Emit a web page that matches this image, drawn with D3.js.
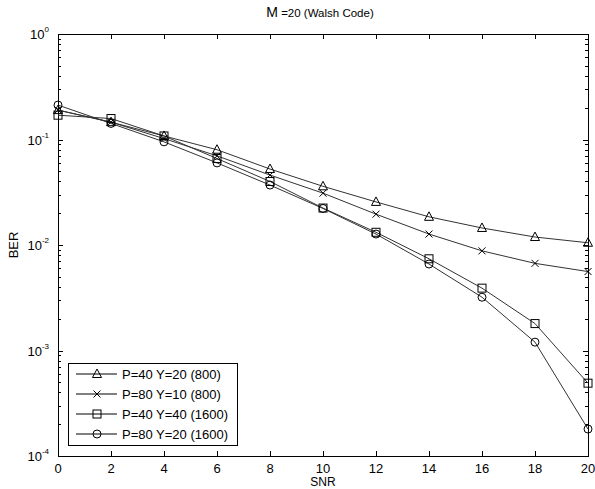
<!DOCTYPE html>
<html>
<head>
<meta charset="utf-8">
<script src="https://cdn.jsdelivr.net/npm/d3@7"></script>
<style>
  html, body { margin: 0; padding: 0; background: #fff; }
  svg { display: block; font-family: "Liberation Sans", Arial, sans-serif; }
</style>
</head>
<body>
<svg id="chart" width="595" height="489"></svg>
<script>
// SNR sweep (x values)
const snr = [0, 2, 4, 6, 8, 10, 12, 14, 16, 18, 20];

// BER per configuration
const berP40Y20 = [0.19, 0.146, 0.108, 0.080, 0.0525, 0.036, 0.0256, 0.0185, 0.0145, 0.0119, 0.0105];
const berP80Y10 = [0.19, 0.146, 0.102, 0.070, 0.046, 0.031, 0.0196, 0.0127, 0.0088, 0.0067, 0.0056];
const berP40Y40 = [0.17, 0.158, 0.108, 0.066, 0.040, 0.0224, 0.0132, 0.0074, 0.0039, 0.0018, 0.00049];
const berP80Y20 = [0.212, 0.142, 0.095, 0.060, 0.037, 0.0222, 0.0127, 0.0066, 0.0032, 0.0012, 0.00018];

const seriesNames = ["P=40 Y=20 (800)", "P=80 Y=10 (800)", "P=40 Y=40 (1600)", "P=80 Y=20 (1600)"];
const seriesMarkers = ["triangle", "cross", "square", "circle"];
const seriesValues = [berP40Y20, berP80Y10, berP40Y40, berP80Y20];

const xTicks = [0, 2, 4, 6, 8, 10, 12, 14, 16, 18, 20];
const yDecades = [0, -1, -2, -3, -4];

const svg = d3.select("#chart");
const plotL = 58, plotR = 588, plotT = 34, plotB = 456;

const x = d3.scaleLinear().domain([0, 20]).range([plotL, plotR]);
const y = d3.scaleLog().domain([1e-4, 1]).range([plotB, plotT]);

const ink = "#000";

// frame
svg.append("rect")
  .attr("x", plotL + 0.5).attr("y", plotT + 0.5)
  .attr("width", plotR - plotL).attr("height", plotB - plotT)
  .attr("fill", "#fff").attr("stroke", ink).attr("stroke-width", 1);

// x ticks (inside, top and bottom)
const g = svg.append("g").attr("stroke", ink).attr("stroke-width", 1).attr("shape-rendering", "crispEdges");
xTicks.forEach(t => {
  const px = Math.round(x(t)) + 0.5;
  g.append("line").attr("x1", px).attr("x2", px).attr("y1", plotB).attr("y2", plotB - 5);
  g.append("line").attr("x1", px).attr("x2", px).attr("y1", plotT).attr("y2", plotT + 5);
});

// y ticks: major per decade, minor 2..9
for (let e = -4; e <= 0; e++) {
  const py = Math.round(y(Math.pow(10, e))) + 0.5;
  g.append("line").attr("x1", plotL).attr("x2", plotL + 5).attr("y1", py).attr("y2", py);
  g.append("line").attr("x1", plotR).attr("x2", plotR - 5).attr("y1", py).attr("y2", py);
  if (e < 0) {
    for (let m = 2; m <= 9; m++) {
      const pm = Math.round(y(m * Math.pow(10, e))) + 0.5;
      g.append("line").attr("x1", plotL).attr("x2", plotL + 3).attr("y1", pm).attr("y2", pm);
      g.append("line").attr("x1", plotR).attr("x2", plotR - 3).attr("y1", pm).attr("y2", pm);
    }
  }
}

// x tick labels
svg.append("g").selectAll("text").data(xTicks).join("text")
  .attr("x", d => x(d)).attr("y", plotB + 17)
  .attr("text-anchor", "middle").attr("font-size", 13).attr("fill", ink)
  .text(d => d);

// y tick labels 10^e
const yl = svg.append("g");
yDecades.forEach(e => {
  const t = yl.append("text")
    .attr("x", plotL - 9).attr("y", y(Math.pow(10, e)) + 5)
    .attr("text-anchor", "end").attr("font-size", 13).attr("fill", ink);
  t.append("tspan").text("10");
  t.append("tspan").attr("dy", -7).attr("font-size", 8).text(e);
});

// axis titles
svg.append("text").attr("x", (plotL + plotR) / 2).attr("y", 486)
  .attr("text-anchor", "middle").attr("font-size", 12).attr("fill", ink).text("SNR");
svg.append("text").attr("transform", `translate(18,${(plotT + plotB) / 2}) rotate(-90)`)
  .attr("text-anchor", "middle").attr("font-size", 13).attr("fill", ink).text("BER");

// title
const title = svg.append("text").attr("x", (plotL + plotR) / 2 - 3).attr("y", 17)
  .attr("text-anchor", "middle").attr("fill", ink).attr("font-size", 11.5);
title.append("tspan").attr("font-size", 14).text("M");
title.append("tspan").text(" =20 (Walsh Code)");

// marker drawing
function drawMarker(sel, type, cx, cy) {
  const s = sel.append("g").attr("transform", `translate(${cx},${cy})`)
    .attr("fill", "none").attr("stroke", ink).attr("stroke-width", 1);
  if (type === "triangle") {
    s.append("path").attr("d", "M0,-5 L4.5,3.5 L-4.5,3.5 Z");
  } else if (type === "cross") {
    s.append("path").attr("d", "M-3.5,-3.5 L3.5,3.5 M-3.5,3.5 L3.5,-3.5");
  } else if (type === "square") {
    s.append("rect").attr("x", -4).attr("y", -4).attr("width", 8).attr("height", 8);
  } else {
    s.append("circle").attr("r", 4);
  }
}

const line = d3.line().x((d, i) => x(snr[i])).y(d => y(d));
const plot = svg.append("g");
seriesValues.forEach((vals, k) => {
  plot.append("path").datum(vals).attr("d", line)
    .attr("fill", "none").attr("stroke", "#333").attr("stroke-width", 1);
});
seriesValues.forEach((vals, k) => {
  vals.forEach((v, i) => drawMarker(plot, seriesMarkers[k], x(snr[i]), y(v)));
});

// legend
const lg = svg.append("g");
lg.append("rect").attr("x", 68.5).attr("y", 363.5).attr("width", 169).attr("height", 82)
  .attr("fill", "#fff").attr("stroke", ink).attr("stroke-width", 1);
seriesNames.forEach((name, k) => {
  const ly = 374 + k * 20;
  lg.append("line").attr("x1", 76).attr("x2", 117).attr("y1", ly).attr("y2", ly)
    .attr("stroke", ink).attr("stroke-width", 1);
  drawMarker(lg, seriesMarkers[k], 97, ly);
  lg.append("text").attr("x", 122).attr("y", ly + 5)
    .attr("font-size", 13).attr("fill", ink).text(name);
});
</script>
</body>
</html>
